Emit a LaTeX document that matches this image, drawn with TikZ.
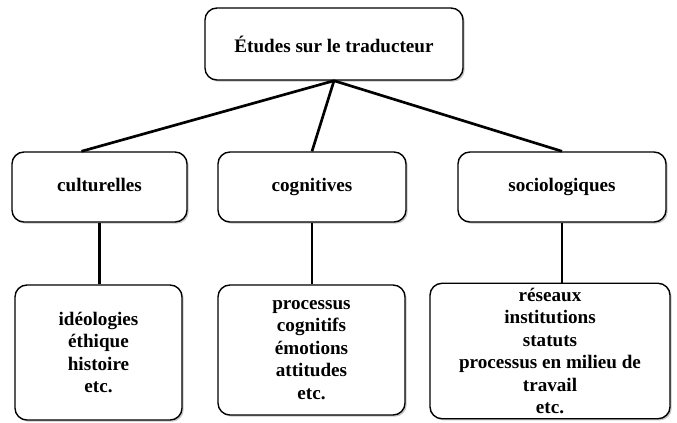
\documentclass[tikz,border=0pt]{standalone}
\usepackage{fontspec}
\setmainfont{Liberation Serif}
\usetikzlibrary{shadows}

\begin{document}
\begin{tikzpicture}[x=0.025cm, y=-0.025cm,
    boite/.style={draw, line width=1pt, rounded corners=0.3cm, fill=white,
      align=center, font=\fontsize{13.6}{16}\selectfont\bfseries,
      drop shadow={opacity=0.45, shadow xshift=1.2pt, shadow yshift=-1.2pt}},
    branche/.style={boite, minimum height=1.75cm, text height=2.2ex, text depth=0.7ex},
    lien/.style={line width=1.9pt}]

    \useasboundingbox (0,0) rectangle (677,422);

    % niveau 1
    \node[boite, minimum width=6.45cm, minimum height=1.8cm] (etudes) at (334,44) {Études sur le traducteur};

    % niveau 2
    \node[branche, minimum width=4.375cm] (cult) at (99.5,187) {culturelles};
    \node[branche, minimum width=4.7cm] (cogn) at (312,187) {cognitives};
    \node[branche, minimum width=5.2cm] (soci) at (562,187) {sociologiques};

    % niveau 3
    \node[boite, minimum width=4.175cm, minimum height=3.375cm] (cultdet) at (98.5,352.5)
        {idéologies\\éthique\\histoire\\etc.};
    \node[boite, minimum width=4.675cm, minimum height=3.25cm] (cogndet) at (311.5,350)
        {processus\\cognitifs\\émotions\\attitudes\\etc.};
    \node[boite, minimum width=6cm, minimum height=3.3cm] (socidet) at (550,351)
        {réseaux\\institutions\\statuts\\processus en milieu de\\travail\\etc.};

    \draw[lien] (etudes.south) -- ([xshift=-0.45cm]cult.north);
    \draw[lien] (etudes.south) -- (cogn.north);
    \draw[lien] (etudes.south) -- (soci.north);

    \draw[lien] (cult.south) -- (cult.south |- cultdet.north);
    \draw[lien] (cogn.south) -- (cogn.south |- cogndet.north);
    \draw[lien] (soci.south) -- (soci.south |- socidet.north);
\end{tikzpicture}
\end{document}
